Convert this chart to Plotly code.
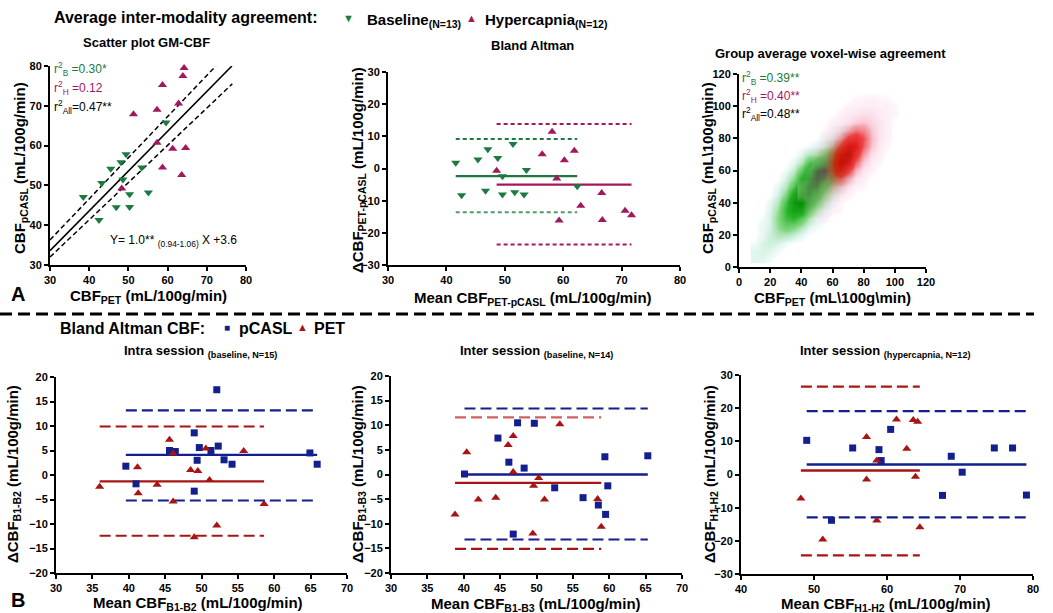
import plotly.graph_objects as go

W, H = 1053, 613
FONT = "Liberation Sans, Arial, sans-serif"
GREEN = "#1b7a40"
MAGENTA = "#a3185c"
BLUE = "#121f8c"
RED = "#a81414"

# ---------------- Panel A1: scatter GM-CBF ----------------
a1_base_pet = [38.5, 42.5, 43.2, 45.5, 46.9, 48.1, 48.6, 49.4, 50.3, 50.3, 53.4, 55.1, 59.6]
a1_base_pcasl = [47.1, 41.3, 50.6, 54.2, 44.5, 55.8, 51.5, 57.8, 47.8, 44.6, 54.5, 48.2, 65.8]
a1_hyp_pet = [48.3, 51.3, 57.3, 57.3, 58.7, 58.7, 61.3, 62.8, 63.9, 64.2, 63.6, 64.6]
a1_hyp_pcasl = [49.2, 67.9, 69.0, 60.7, 75.2, 54.5, 59.2, 70.6, 77.5, 79.5, 52.6, 59.4]
a1_fit_slope = 1.0
a1_fit_intercept = 3.6
a1_fit_x = [30, 76.4]
a1_band_upper_x = [30, 72.3]
a1_band_upper_y = [36.3, 80.0]
a1_band_lower_x = [30, 76.5]
a1_band_lower_y = [32.0, 75.5]

# ---------------- Panel A2: Bland Altman PET vs pCASL ----------------
a2_base_mean = [41.6, 42.6, 45.4, 46.7, 47.1, 48.8, 49.6, 49.6, 51.4, 51.7, 53.3, 53.7, 62.4]
a2_base_diff = [1.8, -8.3, 2.8, -6.9, 6.0, 3.3, -2.4, -8.1, 7.6, -7.4, -8.1, -0.5, -5.5]
a2_hyp_mean = [48.6, 56.4, 58.1, 58.9, 59.3, 60.2, 61.9, 63.0, 66.6, 66.7, 70.6, 71.7]
a2_hyp_diff = [-0.7, 4.4, 11.4, -3.1, -16.2, 2.6, 5.5, -11.6, -7.6, -16.0, -13.1, -14.5]
a2_base_bias, a2_base_upper, a2_base_lower = -2.4, 9.2, -13.6
a2_hyp_bias, a2_hyp_upper, a2_hyp_lower = -5.0, 13.8, -23.6

# ---------------- Panel A3: voxel-wise density, read on a 5-unit grid ----------------
vox_base_x = [10, 15, 20, 25, 30, 35, 40, 45, 50, 55, 60, 65, 70, 75]
vox_base_y = [5, 10, 15, 20, 25, 30, 35, 40, 45, 50, 55, 60, 65, 70, 75, 80, 85]
vox_base_density = [
    # x: 10   15    20    25    30    35    40    45    50    55    60    65    70    75
    [0.03, 0.03, 0.01, 0, 0, 0, 0, 0, 0, 0, 0, 0, 0, 0],                              # y=5
    [0.03, 0.04, 0.03, 0.01, 0, 0, 0, 0, 0, 0, 0, 0, 0, 0],                           # y=10
    [0.01, 0.04, 0.05, 0.04, 0.01, 0, 0, 0, 0, 0, 0, 0, 0, 0],                        # y=15
    [0, 0.02, 0.055, 0.09, 0.09, 0.055, 0.02, 0, 0, 0, 0, 0, 0, 0],                  # y=20
    [0, 0.02, 0.04, 0.13, 0.20, 0.17, 0.09, 0.03, 0.01, 0, 0, 0, 0, 0],              # y=25
    [0, 0.01, 0.04, 0.15, 0.30, 0.35, 0.24, 0.10, 0.03, 0.01, 0, 0, 0, 0],           # y=30
    [0, 0, 0.03, 0.12, 0.33, 0.52, 0.52, 0.33, 0.12, 0.03, 0, 0, 0, 0],              # y=35
    [0, 0, 0.02, 0.08, 0.27, 0.58, 0.70, 0.62, 0.30, 0.10, 0.02, 0, 0, 0],           # y=40
    [0, 0, 0, 0.04, 0.15, 0.45, 0.68, 0.76, 0.55, 0.22, 0.06, 0.01, 0, 0],           # y=45
    [0, 0, 0, 0.02, 0.08, 0.25, 0.55, 0.78, 0.82, 0.45, 0.15, 0.03, 0, 0],           # y=50
    [0, 0, 0, 0, 0.04, 0.13, 0.38, 0.72, 0.90, 0.82, 0.35, 0.10, 0.02, 0],           # y=55
    [0, 0, 0, 0, 0.01, 0.06, 0.22, 0.55, 0.88, 0.97, 0.60, 0.20, 0.05, 0],           # y=60
    [0, 0, 0, 0, 0, 0.02, 0.08, 0.25, 0.50, 0.72, 0.60, 0.30, 0.08, 0.02],           # y=65
    [0, 0, 0, 0, 0, 0, 0.03, 0.08, 0.14, 0.30, 0.40, 0.30, 0.14, 0.04],              # y=70
    [0, 0, 0, 0, 0, 0, 0, 0.01, 0.03, 0.07, 0.13, 0.14, 0.08, 0.03],                 # y=75
    [0, 0, 0, 0, 0, 0, 0, 0, 0, 0.02, 0.04, 0.05, 0.04, 0.02],                       # y=80
    [0, 0, 0, 0, 0, 0, 0, 0, 0, 0, 0.01, 0.02, 0.02, 0.01],                          # y=85
]
vox_hyp_x = [40, 45, 50, 55, 60, 65, 70, 75, 80, 85, 90, 95, 100]
vox_hyp_y = [30, 35, 40, 45, 50, 55, 60, 65, 70, 75, 80, 85, 90, 95, 100, 105, 110]
vox_hyp_density = [
    # x: 40   45    50     55    60     65    70     75    80    85    90    95    100
    [0, 0, 0.01, 0.01, 0, 0, 0, 0, 0, 0, 0, 0, 0],                                    # y=30
    [0, 0.01, 0.015, 0.02, 0.015, 0.01, 0, 0, 0, 0, 0, 0, 0],                         # y=35
    [0, 0.01, 0.02, 0.03, 0.02, 0.01, 0, 0, 0, 0, 0, 0, 0],                           # y=40
    [0.01, 0.02, 0.03, 0.04, 0.05, 0.035, 0.015, 0, 0, 0, 0, 0, 0],                  # y=45
    [0.01, 0.02, 0.03, 0.05, 0.10, 0.10, 0.045, 0.015, 0.01, 0, 0, 0, 0],            # y=50
    [0, 0.01, 0.03, 0.06, 0.20, 0.30, 0.15, 0.05, 0.02, 0, 0, 0, 0],                 # y=55
    [0, 0.01, 0.02, 0.06, 0.30, 0.60, 0.40, 0.14, 0.04, 0.02, 0, 0, 0],              # y=60
    [0, 0, 0.02, 0.05, 0.30, 0.78, 0.72, 0.30, 0.09, 0.03, 0.01, 0, 0],              # y=65
    [0, 0, 0.02, 0.05, 0.22, 0.62, 0.85, 0.50, 0.18, 0.05, 0.02, 0, 0],              # y=70
    [0, 0, 0.01, 0.03, 0.12, 0.36, 0.72, 0.70, 0.30, 0.10, 0.03, 0.01, 0],           # y=75
    [0, 0, 0, 0.02, 0.05, 0.16, 0.40, 0.50, 0.33, 0.12, 0.04, 0.02, 0],              # y=80
    [0, 0, 0, 0.01, 0.03, 0.06, 0.14, 0.24, 0.22, 0.10, 0.04, 0.02, 0],              # y=85
    [0, 0, 0, 0, 0.02, 0.03, 0.05, 0.08, 0.10, 0.07, 0.04, 0.02, 0],                 # y=90
    [0, 0, 0, 0, 0, 0.02, 0.03, 0.04, 0.05, 0.045, 0.03, 0.02, 0.01],                # y=95
    [0, 0, 0, 0, 0, 0, 0.015, 0.02, 0.025, 0.03, 0.02, 0.015, 0.01],                 # y=100
    [0, 0, 0, 0, 0, 0, 0, 0.01, 0.01, 0.015, 0.01, 0.01, 0],                         # y=105
    [0, 0, 0, 0, 0, 0, 0, 0, 0, 0, 0, 0, 0],                                          # y=110
]

# ---------------- Panel B1: intra session ----------------
b1_pcasl_mean = [39.6, 41.0, 45.6, 46.4, 49.0, 49.4, 49.0, 49.7, 51.3, 52.1, 52.3, 53.1, 54.2, 64.9, 65.9]
b1_pcasl_diff = [1.8, -1.8, 5.0, 4.8, 8.6, 3.0, -3.3, 5.6, 5.0, 17.4, 5.9, 3.1, 2.2, 4.5, 2.2]
b1_pet_mean = [36.0, 41.2, 41.3, 43.9, 45.6, 46.1, 46.1, 48.5, 49.0, 49.5, 50.6, 51.1, 52.1, 55.8, 58.6]
b1_pet_diff = [-2.4, 1.6, -3.7, -2.0, 7.2, 4.4, -5.4, 1.0, -12.7, 0.8, 5.4, -1.0, -10.3, 4.9, -5.9]
b1_pcasl_bias, b1_pcasl_upper, b1_pcasl_lower = 4.1, 13.2, -5.2
b1_pet_bias, b1_pet_upper, b1_pet_lower = -1.3, 9.9, -12.4

# ---------------- Panel B2: inter session baseline ----------------
b2_pcasl_mean = [40.1, 44.7, 46.2, 46.8, 47.4, 48.3, 49.7, 52.5, 56.4, 58.5, 59.4, 59.5, 59.8, 65.3]
b2_pcasl_diff = [0.1, 7.4, 2.5, -12.1, 10.5, 1.3, 10.4, -2.7, -4.7, -6.2, 3.6, -8.1, -2.3, 3.8]
b2_pet_mean = [38.8, 40.4, 42.0, 44.4, 46.1, 46.8, 46.8, 49.5, 49.6, 50.3, 51.1, 53.2, 58.4, 58.9]
b2_pet_diff = [-8.1, 4.5, -5.1, -4.7, 6.0, 7.8, 0.5, -12.0, -2.3, -0.7, -5.1, 10.2, -5.0, -10.6]
b2_pcasl_bias, b2_pcasl_upper, b2_pcasl_lower = 0.0, 13.4, -13.2
b2_pet_bias, b2_pet_upper, b2_pet_lower = -1.7, 11.6, -15.1

# ---------------- Panel B3: inter session hypercapnia ----------------
b3_pcasl_mean = [49.0, 52.4, 55.3, 58.9, 59.2, 60.5, 67.6, 68.8, 70.3, 74.7, 77.2, 79.1]
b3_pcasl_diff = [10.3, -13.8, 8.0, 7.5, 4.2, 13.6, -6.3, 5.5, 0.7, 8.0, 8.0, -6.2]
b3_pet_mean = [48.2, 51.2, 57.2, 57.2, 58.6, 58.6, 61.3, 62.7, 63.6, 64.2, 63.9, 64.5]
b3_pet_diff = [-7.2, -19.6, 11.3, -1.5, 4.2, -13.9, 16.6, 7.8, 16.4, 15.9, -0.7, -15.9]
b3_pcasl_bias, b3_pcasl_upper, b3_pcasl_lower = 3.0, 19.1, -12.9
b3_pet_bias, b3_pet_upper, b3_pet_lower = 1.2, 26.5, -24.4

# ---------------------------------------------------------------------
def fx(px):
    return px / W


def fy(py):
    return 1 - py / H


fig = go.Figure()


def pts(x, y, axis, color, symbol, size):
    fig.add_trace(go.Scatter(x=x, y=y, mode="markers", xaxis="x" + axis, yaxis="y" + axis,
                             marker=dict(symbol=symbol, size=size, color=color, line=dict(width=0)),
                             cliponaxis=False, showlegend=False, hoverinfo="skip"))


def hline(xs, val, axis, color, dash="solid", width=2.2):
    fig.add_trace(go.Scatter(x=[min(xs), max(xs)], y=[val, val], mode="lines",
                             xaxis="x" + axis, yaxis="y" + axis,
                             line=dict(color=color, width=width, dash=dash),
                             showlegend=False, hoverinfo="skip"))


def line(x, y, axis, color, dash="solid", width=1.5):
    fig.add_trace(go.Scatter(x=x, y=y, mode="lines", xaxis="x" + axis, yaxis="y" + axis,
                             line=dict(color=color, width=width, dash=dash),
                             showlegend=False, hoverinfo="skip"))


# A1
line(a1_fit_x, [a1_fit_slope * v + a1_fit_intercept for v in a1_fit_x], "", "black", width=1.6)
line(a1_band_upper_x, a1_band_upper_y, "", "black", dash="5px,3px", width=1.5)
line(a1_band_lower_x, a1_band_lower_y, "", "black", dash="5px,3px", width=1.5)
pts(a1_base_pet, a1_base_pcasl, "", GREEN, "triangle-down", 8)
pts(a1_hyp_pet, a1_hyp_pcasl, "", MAGENTA, "triangle-up", 8)

# A2
SHORT = "4px,3px"
hline(a2_base_mean, a2_base_upper, "2", GREEN, SHORT, 2)
hline(a2_base_mean, a2_base_lower, "2", "#4f9a6a", SHORT, 2)
hline(a2_base_mean, a2_base_bias, "2", GREEN, "solid", 2.2)
hline(a2_hyp_mean, a2_hyp_upper, "2", MAGENTA, SHORT, 2)
hline(a2_hyp_mean, a2_hyp_lower, "2", MAGENTA, SHORT, 2)
hline(a2_hyp_mean, a2_hyp_bias, "2", MAGENTA, "solid", 2.2)
pts(a2_base_mean, a2_base_diff, "2", GREEN, "triangle-down", 8)
pts(a2_hyp_mean, a2_hyp_diff, "2", MAGENTA, "triangle-up", 8)

# A3 density clouds
green_scale = [[0, "rgba(255,255,255,0)"], [0.01, "rgba(205,240,235,0.3)"],
               [0.05, "rgba(165,225,190,0.55)"], [0.15, "rgba(100,205,100,0.8)"],
               [0.35, "rgba(30,175,30,0.95)"], [0.7, "rgba(0,140,0,1)"],
               [0.86, "rgba(0,75,0,1)"], [1, "rgba(8,12,0,1)"]]
red_scale = [[0, "rgba(255,255,255,0)"], [0.01, "rgba(250,215,235,0.28)"],
             [0.05, "rgba(245,170,200,0.38)"], [0.15, "rgba(235,90,110,0.55)"],
             [0.35, "rgba(235,20,20,0.8)"], [0.7, "rgba(220,0,0,0.9)"],
             [1, "rgba(160,0,0,0.9)"]]
fig.add_trace(go.Heatmap(x=vox_base_x, y=vox_base_y, z=vox_base_density, zmin=0, zmax=1,
                         colorscale=green_scale, zsmooth="best", showscale=False,
                         xaxis="x3", yaxis="y3", hoverinfo="skip"))
fig.add_trace(go.Heatmap(x=vox_hyp_x, y=vox_hyp_y, z=vox_hyp_density, zmin=0, zmax=1,
                         colorscale=red_scale, zsmooth="best", showscale=False,
                         xaxis="x3", yaxis="y3", hoverinfo="skip"))

# B panels
LONG = "11px,5px"
for ax_id, pm, pdv, em, edv, pb, pu, pl, eb, eu, el, light in [
    ("4", b1_pcasl_mean, b1_pcasl_diff, b1_pet_mean, b1_pet_diff,
     b1_pcasl_bias, b1_pcasl_upper, b1_pcasl_lower, b1_pet_bias, b1_pet_upper, b1_pet_lower, False),
    ("5", b2_pcasl_mean, b2_pcasl_diff, b2_pet_mean, b2_pet_diff,
     b2_pcasl_bias, b2_pcasl_upper, b2_pcasl_lower, b2_pet_bias, b2_pet_upper, b2_pet_lower, True),
    ("6", b3_pcasl_mean, b3_pcasl_diff, b3_pet_mean, b3_pet_diff,
     b3_pcasl_bias, b3_pcasl_upper, b3_pcasl_lower, b3_pet_bias, b3_pet_upper, b3_pet_lower, False),
]:
    hline(pm, pu, ax_id, BLUE, LONG, 2.2)
    hline(pm, pl, ax_id, BLUE, LONG, 2.2)
    hline(em, eu, ax_id, "#d06060" if light else RED, LONG, 2.2)
    hline(em, el, ax_id, RED, LONG, 2.2)
    hline(pm, pb, ax_id, BLUE, "solid", 2.4)
    hline(em, eb, ax_id, RED, "solid", 2.4)
    pts(pm, pdv, ax_id, BLUE, "square", 7)
    pts(em, edv, ax_id, RED, "triangle-up", 8)


def axis(px0, px1, rng, dtick, anchor, vertical=False):
    if vertical:
        dom = [fy(px1), fy(px0)]
    else:
        dom = [fx(px0), fx(px1)]
    return dict(domain=dom, range=rng, dtick=dtick, tick0=rng[0], anchor=anchor,
                showline=True, linecolor="black", linewidth=2, mirror=False,
                ticks="outside", ticklen=4, tickwidth=2, tickcolor="black",
                showgrid=False, zeroline=False, fixedrange=True, automargin=False,
                tickfont=dict(family=FONT, size=11, color="black", weight="bold"))


layout = dict(
    width=W, height=H, paper_bgcolor="white", plot_bgcolor="rgba(0,0,0,0)",
    margin=dict(l=0, r=0, t=0, b=0), showlegend=False,
    font=dict(family=FONT, color="black"),
    xaxis=axis(50, 246, [30, 80], 10, "y"),
    yaxis=axis(66, 265, [30, 80], 10, "x", True),
    xaxis2=axis(388, 680, [30, 80], 10, "y2"),
    yaxis2=axis(72, 265, [-30, 30], 10, "x2", True),
    xaxis3=axis(739, 926, [0, 120], 20, "y3"),
    yaxis3=axis(74, 267, [0, 120], 20, "x3", True),
    xaxis4=axis(56, 347, [30, 70], 5, "y4"),
    yaxis4=axis(377, 573, [-20, 20], 5, "x4", True),
    xaxis5=axis(391, 682, [30, 70], 5, "y5"),
    yaxis5=axis(376, 573, [-20, 20], 5, "x5", True),
    xaxis6=axis(741, 1033, [40, 80], 10, "y6"),
    yaxis6=axis(375, 574, [-30, 30], 10, "x6", True),
)
fig.update_layout(**layout)

anns = []


def ann(text, x, y, size=12, color="black", xanchor="center", angle=0):
    anns.append(dict(text=text, x=fx(x), y=fy(y), xref="paper", yref="paper",
                     xanchor=xanchor, yanchor="middle", showarrow=False, textangle=angle,
                     font=dict(family=FONT, size=size, color=color)))


# headers & legends
ann("<b>Average inter-modality agreement:</b>", 52, 18, 16, xanchor="left")
ann("▼", 348, 18, 11, GREEN)
ann("<b>Baseline<sub>(N=13)</sub></b>", 365, 20, 15, xanchor="left")
ann("▲", 471, 18, 11, MAGENTA)
ann("<b>Hypercapnia<sub>(N=12)</sub></b>", 483, 20, 15, xanchor="left")
ann("<b>Scatter plot GM-CBF</b>", 146, 42, 13)
ann("<b>Bland Altman</b>", 532, 45, 13)
ann("<b>Group average voxel-wise agreement</b>", 830, 53, 13)

ann("<b>Bland Altman CBF:</b>", 58, 328, 16, xanchor="left")
ann("■", 227, 327, 10, BLUE)
ann("<b>pCASL</b>", 237, 328, 16, xanchor="left")
ann("▲", 302, 327, 11, RED)
ann("<b>PET</b>", 312, 328, 16, xanchor="left")
ann("<b>Intra session <sub>(baseline, N=15)</sub></b>", 200, 352, 13)
ann("<b>Inter session <sub>(baseline, N=14)</sub></b>", 536, 351, 13)
ann("<b>Inter session <sub>(hypercapnia, N=12)</sub></b>", 885, 351, 13)

ann("<b>A</b>", 18, 294, 20)
ann("<b>B</b>", 18, 600, 20)

# in-panel statistics
ann("r<sup>2</sup><sub>B</sub> =0.30*", 52, 69, 12, GREEN, "left")
ann("r<sup>2</sup><sub>H</sub> =0.12", 52, 88, 12, MAGENTA, "left")
ann("r<sup>2</sup><sub>All</sub>=0.47**", 52, 107, 12, "black", "left")
ann("Y= 1.0** <sub>(0.94-1.06)</sub> X +3.6", 108, 241, 12, "black", "left")
ann("r<sup>2</sup><sub>B</sub> =0.39**", 740, 78, 12, GREEN, "left")
ann("r<sup>2</sup><sub>H</sub> =0.40**", 740, 96, 12, MAGENTA, "left")
ann("r<sup>2</sup><sub>All</sub>=0.48**", 740, 114, 12, "black", "left")

# axis titles
ann("<b>CBF<sub>pCASL</sub> (mL/100g/min)</b>", 20, 168, 15, angle=-90)
ann("<b>CBF<sub>PET</sub> (mL/100g/min)</b>", 148, 296, 15)
ann("<b>ΔCBF<sub>PET-pCASL</sub> (mL/100g/min)</b>", 358, 170, 15, angle=-90)
ann("<b>Mean CBF<sub>PET-pCASL</sub> (mL/100g/min)</b>", 533, 298, 15)
ann("<b>CBF<sub>pCASL</sub> (mL\\100g\\min)</b>", 708, 168, 15, angle=-90)
ann("<b>CBF<sub>PET</sub> (mL\\100g\\min)</b>", 832, 298, 15)
ann("<b>ΔCBF<sub>B1-B2</sub> (mL/100g/min)</b>", 13, 474, 15, angle=-90)
ann("<b>Mean CBF<sub>B1-B2</sub> (mL/100g/min)</b>", 198, 603, 15)
ann("<b>ΔCBF<sub>B1-B3</sub> (mL/100g/min)</b>", 358, 474, 15, angle=-90)
ann("<b>Mean CBF<sub>B1-B3</sub> (mL/100g/min)</b>", 536, 604, 15)
ann("<b>ΔCBF<sub>H1-H2</sub> (mL/100g/min)</b>", 710, 474, 15, angle=-90)
ann("<b>Mean CBF<sub>H1-H2</sub> (mL/100g/min)</b>", 886, 604, 15)

fig.update_layout(annotations=anns)

fig.add_shape(type="line", xref="paper", yref="paper", x0=0, x1=fx(1034), y0=fy(314), y1=fy(314),
              line=dict(color="black", width=3, dash="12px,6px"))

fig.write_html("out.html", config={"displayModeBar": False},
               post_script="document.body.style.margin='0px';document.body.style.overflow='hidden';")
